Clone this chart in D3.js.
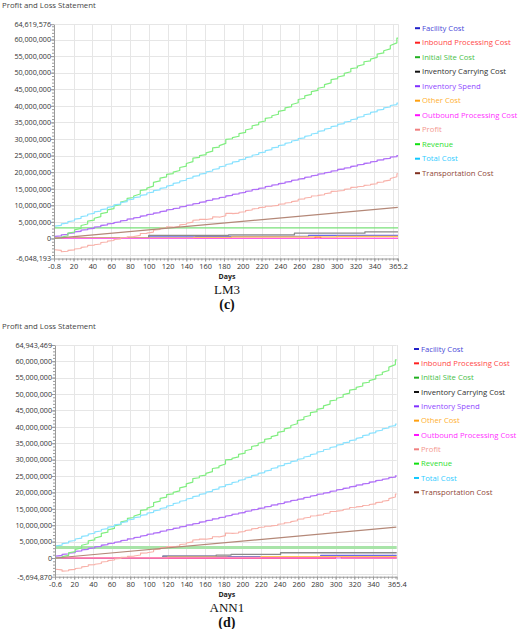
<!DOCTYPE html>
<html>
<head>
<meta charset="utf-8">
<script src="https://cdn.jsdelivr.net/npm/d3@7"></script>
<style>
  body { margin: 0; background: #fff; }
  svg { display: block; font-family: "Open Sans", "Noto Sans", sans-serif; }
</style>
</head>
<body>
<div id="chart"></div>
<script>
// values in millions, days on x
const weekDays = [0,7,14,21,28,35,42,49,56,63,70,77,84,91,98,105,112,119,126,133,140,147,154,161,168,175,182,189,196,203,210,217,224,231,238,245,252,259,266,273,280,287,294,301,308,315,322,329,336,343,350,357,364];

const revenue = [0.0,0.4,1.6,2.6,3.9,5.2,6.1,7.5,8.6,9.8,11.0,12.1,12.8,14.5,15.2,16.9,18.2,19.3,20.0,21.4,22.6,24.2,25.0,25.8,27.3,28.0,29.9,30.4,31.6,32.7,34.0,35.0,36.2,37.0,38.3,39.4,40.4,41.9,43.0,44.3,45.3,46.4,47.9,48.7,49.8,51.2,52.0,53.3,54.1,55.6,56.6,58.2,60.4];

const totalCost = [3.7,4.4,5.1,5.8,6.6,7.3,8.0,8.7,9.4,10.1,10.8,11.6,12.3,13.0,13.7,14.4,15.1,15.8,16.6,17.3,18.0,18.7,19.4,20.1,20.8,21.6,22.3,23.0,23.7,24.4,25.1,25.8,26.5,27.3,28.0,28.7,29.4,30.1,30.8,31.5,32.3,33.0,33.7,34.4,35.1,35.8,36.5,37.3,38.0,38.7,39.4,40.1,40.8];

const inventorySpend = [0.6,1.1,1.5,2.0,2.5,2.9,3.4,3.9,4.4,4.8,5.3,5.8,6.2,6.7,7.2,7.6,8.1,8.6,9.0,9.5,10.0,10.4,10.9,11.4,11.9,12.3,12.8,13.3,13.7,14.2,14.7,15.1,15.6,16.1,16.5,17.0,17.5,17.9,18.4,18.9,19.4,19.8,20.3,20.8,21.2,21.7,22.2,22.6,23.1,23.6,24.0,24.5,25.0];

const profit = [-3.4,-4.0,-3.6,-3.2,-2.7,-2.1,-1.9,-1.2,-0.8,-0.3,0.2,0.5,0.6,1.5,1.6,2.5,3.1,3.5,3.4,4.1,4.6,5.5,5.8,5.7,6.5,6.4,7.6,7.5,7.9,8.4,8.9,9.3,9.7,9.8,10.3,10.7,11.1,11.8,12.2,12.8,13.0,13.5,14.2,14.3,14.8,15.4,15.6,16.0,16.3,16.9,17.3,18.1,19.5];

const transportDays = [0, 365];
const transportCost = [0.0, 9.4];
const siteDays = [0, 365];
const initialSiteCost = [3.2, 3.2];

// small series near zero, panel (c)
const carryDaysC = [0, 20, 100, 150, 185, 255, 330, 365];
const carryC = [0.05, 0.15, 0.9, 0.95, 1.1, 1.6, 2.0, 2.0];
const facilityDaysC = [0, 100, 150, 270, 365];
const facilityC = [0.0, 0.5, 0.6, 0.9, 0.9];
const otherDaysC = [0, 148, 188, 300, 365];
const otherC = [0.1, 0.3, 0.45, 0.6, 0.6];
const inboundDaysC = [0, 277, 283, 365];
const inboundC = [0.0, 0.4, 0.05, 0.05];
const outboundDaysC = [0, 365];
const outboundC = [0.02, 0.02];

// small series near zero, panel (d)
const carryDaysD = [0, 20, 115, 172, 188, 241, 365];
const carryD = [0.05, 0.15, 0.6, 0.9, 1.1, 1.6, 1.6];
const facilityDaysD = [0, 115, 172, 284, 365];
const facilityD = [0.1, 0.6, 0.4, 0.8, 0.8];
const otherDaysD = [0, 120, 184, 220, 365];
const otherD = [0.1, 0.3, 0.2, 0.4, 0.4];
const inboundDaysD = [0, 300, 306, 365];
const inboundD = [0.0, 0.4, 0.05, 0.05];
const outboundDaysD = [0, 365];
const outboundD = [0.02, 0.02];

const legendNames = ["Facility Cost", "Inbound Processing Cost", "Initial Site Cost", "Inventory Carrying Cost", "Inventory Spend", "Other Cost", "Outbound Processing Cost", "Profit", "Revenue", "Total Cost", "Transportation Cost"];
const legendColors = ["#2020c8", "#ff2020", "#20b020", "#101010", "#8030ff", "#ffa010", "#ff10ff", "#f08080", "#10e010", "#10c8ff", "#803020"];
const legendTextColors = ["#4848d8", "#ff4848", "#48c048", "#303030", "#9048ff", "#ffb030", "#ff30ff", "#f49890", "#30e030", "#30ccff", "#904838"];

const xTicksC = [-0.8,20,40,60,80,100,120,140,160,180,200,220,240,260,280,300,320,340,365.2];
const xTicksD = [-0.6,20,40,60,80,100,120,140,160,180,200,220,240,260,280,300,320,340,365.4];
const yTicksC = [-6.048193,0,5,10,15,20,25,30,35,40,45,50,55,60,64.619576];
const yTicksD = [-5.69487,0,5,10,15,20,25,30,35,40,45,50,55,60,64.943469];

const W = 520, H = 629;
const fmt = d3.formatLocale({decimal: ".", thousands: ",", grouping: [3], currency: ["", ""], minus: "-"}).format(",.0f");

const svg = d3.select("#chart").append("svg")
    .attr("width", W)
    .attr("height", H);

// staircase with slightly sloped runs: part of each rise happens along the run, the rest as a riser
function stairPath(pts) {
    let s = `M${pts[0][0]},${pts[0][1]}`;
    for (let i = 1; i < pts.length; i++) {
        const [x0, y0] = pts[i - 1], [x1, y1] = pts[i];
        const yRun = y0 + (y1 - y0) * 0.35;
        s += `L${x1},${yRun}L${x1},${y1}`;
    }
    return s;
}

function drawPanel(p) {
    const g = svg.append("g");
    const x = d3.scaleLinear().domain([p.xTicks[0], p.xTicks[p.xTicks.length - 1]]).range([p.left, p.right]);
    const y = d3.scaleLinear().domain([p.yTicks[0], p.yTicks[p.yTicks.length - 1]]).range([p.bottom, p.top]);

    // title
    g.append("text")
        .attr("x", 2).attr("y", p.top - 16)
        .attr("font-size", 7.8).attr("fill", "#444")
        .text("Profit and Loss Statement");

    // grid
    const grid = g.append("g").attr("stroke", "#e6e6e6").attr("stroke-width", 1);
    grid.selectAll("line.v")
        .data(d3.range(20, 361, 20).concat([x.domain()[1]]))
        .join("line")
        .attr("x1", d => Math.round(x(d)) + 0.5).attr("x2", d => Math.round(x(d)) + 0.5)
        .attr("y1", p.top).attr("y2", p.bottom);
    grid.selectAll("line.h")
        .data(d3.range(-5, 61, 5).concat([y.domain()[1]]))
        .join("line")
        .attr("class", "h")
        .attr("x1", p.left).attr("x2", p.right)
        .attr("y1", d => Math.round(y(d)) + 0.5).attr("y2", d => Math.round(y(d)) + 0.5);

    // series
    const series = [
        {days: p.facilityDays, vals: p.facility, color: "#6868e8", w: 1.3, stair: false},
        {days: p.inboundDays, vals: p.inbound, color: "#ff4040", w: 1.3, stair: false},
        {days: siteDays, vals: initialSiteCost, color: p.siteColor, w: p.siteWidth, stair: false},
        {days: p.carryDays, vals: p.carry, color: "#8a8a8a", w: 1.3, stair: false},
        {days: weekDays, vals: inventorySpend, color: "#b070f8", w: 1.3, stair: true},
        {days: p.otherDays, vals: p.other, color: "#ffc458", w: 1.3, stair: false},
        {days: p.outboundDays, vals: p.outbound, color: "#ff60ff", w: 1, stair: false},
        {days: weekDays, vals: profit, color: "#f8b0a8", w: 1.1, stair: true},
        {days: weekDays, vals: revenue, color: "#80ee80", w: 1.2, stair: true},
        {days: weekDays, vals: totalCost, color: "#88e2ff", w: 1.2, stair: true},
        {days: transportDays, vals: transportCost, color: "#b48878", w: 1.2, linear: true}
    ];
    const stepLine = d3.line()
        .x(d => x(d[0]))
        .y(d => y(d[1]))
        .curve(d3.curveStepAfter);
    const linLine = d3.line().x(d => x(d[0])).y(d => y(d[1]));
    g.append("g").selectAll("path")
        .data(series)
        .join("path")
        .attr("fill", "none")
        .attr("stroke", d => d.color)
        .attr("stroke-width", d => d.w)
        .attr("stroke-linejoin", "round")
        .attr("d", d => {
            const pts = d.days.map((dd, i) => [dd, d.vals[i]]);
            if (d.linear) return linLine(pts);
            if (d.stair) {
                const sp = pts.map(q => [x(q[0]), y(q[1])]);
                sp.push([x(x.domain()[1]), sp[sp.length - 1][1]]);
                return stairPath(sp);
            }
            const last = pts[pts.length - 1];
            if (last[0] < x.domain()[1]) pts.push([x.domain()[1], last[1]]);
            return stepLine(pts);
        });

    // axes
    const yAxis = g.append("g")
        .attr("transform", `translate(${p.left},0)`)
        .call(d3.axisLeft(y).tickValues(p.yTicks).tickFormat(d => fmt(d * 1e6)).tickSize(3).tickSizeOuter(0));
    g.append("g")
        .attr("transform", `translate(${p.left},0)`)
        .call(d3.axisLeft(y).tickValues(d3.range(-5, 64.5, 1)).tickFormat("").tickSize(2).tickSizeOuter(0))
        .call(a => a.select(".domain").remove());
    const xAxis = g.append("g")
        .attr("transform", `translate(0,${p.bottom})`)
        .call(d3.axisBottom(x).tickValues(p.xTicks).tickFormat(d => String(d)).tickSize(3).tickSizeOuter(0));
    g.append("g")
        .attr("transform", `translate(0,${p.bottom})`)
        .call(d3.axisBottom(x).tickValues(d3.range(4, 365, 4)).tickFormat("").tickSize(2).tickSizeOuter(0))
        .call(a => a.select(".domain").remove());

    g.selectAll(".domain").attr("stroke", "#9a9a9a");
    g.selectAll(".tick line").attr("stroke", "#9a9a9a");
    yAxis.selectAll("text").attr("font-size", 7.2).attr("fill", "#333").attr("font-family", "Open Sans").attr("x", -3);
    xAxis.selectAll("text").attr("font-size", 7.4).attr("fill", "#333").attr("font-family", "Open Sans").attr("y", 5);

    // axis caption and panel labels
    g.append("text")
        .attr("x", (p.left + p.right) / 2 + 1).attr("y", p.bottom + 20)
        .attr("text-anchor", "middle").attr("font-size", 7).attr("font-weight", "bold").attr("fill", "#222")
        .text("Days");
    g.append("text")
        .attr("x", (p.left + p.right) / 2 + 1).attr("y", p.bottom + 35)
        .attr("text-anchor", "middle").attr("font-size", 13).attr("font-family", "Liberation Serif, Times New Roman, serif")
        .attr("fill", "#111")
        .text(p.model);
    g.append("text")
        .attr("x", (p.left + p.right) / 2 + 1).attr("y", p.bottom + 50)
        .attr("text-anchor", "middle").attr("font-size", 14).attr("font-weight", "bold")
        .attr("font-family", "Liberation Serif, Times New Roman, serif").attr("fill", "#111")
        .text(p.tag);

    // legend
    const lg = g.append("g").selectAll("g")
        .data(legendNames)
        .join("g")
        .attr("transform", (d, i) => `translate(${p.legendX},${p.top + 4 + i * p.legendStep})`);
    lg.append("rect")
        .attr("x", 0).attr("y", -1).attr("width", 5).attr("height", 2)
        .attr("fill", (d, i) => legendColors[i]);
    lg.append("text")
        .attr("x", 7).attr("dy", "0.35em")
        .attr("font-size", 7.7)
        .attr("fill", (d, i) => legendTextColors[i])
        .text(d => d);
}

drawPanel({
    top: 24.2, bottom: 258.5, left: 54, right: 398,
    xTicks: xTicksC, yTicks: yTicksC, model: "LM3", tag: "(c)",
    legendX: 415, legendStep: 14.5,
    siteColor: "#78e078", siteWidth: 1.2,
    carryDays: carryDaysC, carry: carryC,
    facilityDays: facilityDaysC, facility: facilityC,
    otherDays: otherDaysC, other: otherC,
    inboundDays: inboundDaysC, inbound: inboundC,
    outboundDays: outboundDaysC, outbound: outboundC
});

drawPanel({
    top: 345, bottom: 576.7, left: 55, right: 396.7,
    xTicks: xTicksD, yTicks: yTicksD, model: "ANN1", tag: "(d)",
    legendX: 414, legendStep: 14.33,
    siteColor: "#a8e4a8", siteWidth: 3,
    carryDays: carryDaysD, carry: carryD,
    facilityDays: facilityDaysD, facility: facilityD,
    otherDays: otherDaysD, other: otherD,
    inboundDays: inboundDaysD, inbound: inboundD,
    outboundDays: outboundDaysD, outbound: outboundD
});
</script>
</body>
</html>
